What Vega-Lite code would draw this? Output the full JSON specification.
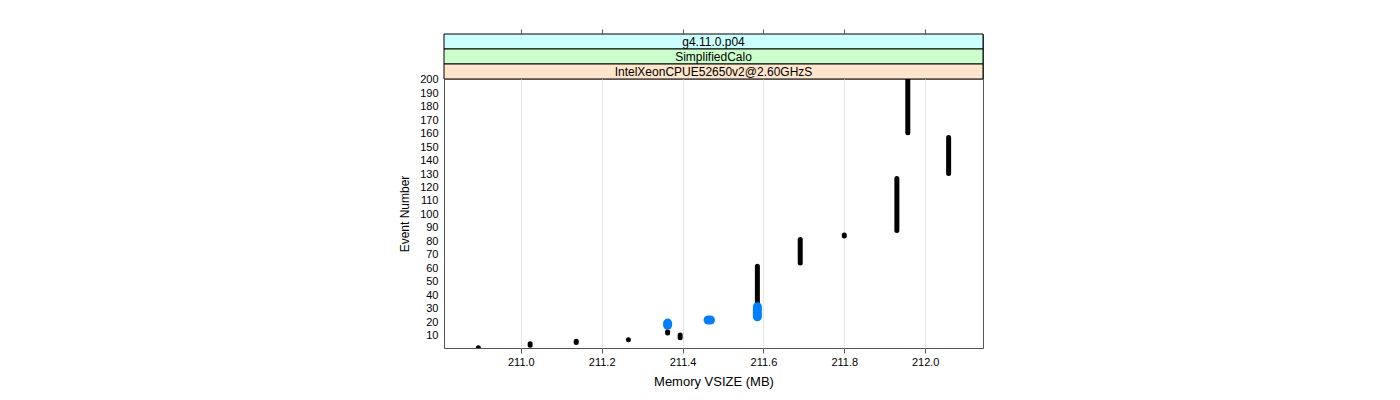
{
  "$schema": "https://vega.github.io/schema/vega-lite/v6.json",
  "padding": {"left": 398, "top": 28, "right": 5, "bottom": 5},
  "background": "white",
  "config": {
    "font": "Liberation Sans",
    "view": {"stroke": "#555555", "strokeWidth": 1},
    "axis": {"labelFont": "Liberation Sans", "titleFont": "Liberation Sans", "labelColor": "#000000", "titleColor": "#000000", "titleFontWeight": "normal"}
  },
  "datasets": {
    "strips": [
      {"strip": "g4.11.0.p04", "level": "a"},
      {"strip": "SimplifiedCalo", "level": "b"},
      {"strip": "IntelXeonCPUE52650v2@2.60GHzS", "level": "c"}
    ],
    "runs": [
      {"vsize": 210.895, "vsize2": 210.895, "ev": 1, "ev2": 1.05, "series": "main"},
      {"vsize": 211.023, "vsize2": 211.023, "ev": 3, "ev2": 4, "series": "main"},
      {"vsize": 211.137, "vsize2": 211.137, "ev": 5, "ev2": 6, "series": "main"},
      {"vsize": 211.266, "vsize2": 211.266, "ev": 7, "ev2": 7.05, "series": "main"},
      {"vsize": 211.363, "vsize2": 211.363, "ev": 12, "ev2": 13, "series": "main"},
      {"vsize": 211.394, "vsize2": 211.394, "ev": 8.5, "ev2": 10.5, "series": "main"},
      {"vsize": 211.585, "vsize2": 211.585, "ev": 30, "ev2": 61.5, "series": "main"},
      {"vsize": 211.691, "vsize2": 211.691, "ev": 64, "ev2": 81.5, "series": "main"},
      {"vsize": 211.8, "vsize2": 211.8, "ev": 84, "ev2": 84.8, "series": "main"},
      {"vsize": 211.93, "vsize2": 211.93, "ev": 88, "ev2": 126.6, "series": "main"},
      {"vsize": 211.957, "vsize2": 211.957, "ev": 160.7, "ev2": 203, "series": "main"},
      {"vsize": 212.058, "vsize2": 212.058, "ev": 130.3, "ev2": 157, "series": "main"},
      {"vsize": 211.363, "vsize2": 211.363, "ev": 17.8, "ev2": 19.4, "series": "other"},
      {"vsize": 211.463, "vsize2": 211.469, "ev": 21.7, "ev2": 21.7, "series": "other"},
      {"vsize": 211.585, "vsize2": 211.585, "ev": 24, "ev2": 31.6, "series": "other"}
    ]
  },
  "spacing": 0,
  "bounds": "flush",
  "vconcat": [
    {
      "width": 539,
      "height": 45,
      "data": {"name": "strips"},
      "encoding": {
        "y": {"field": "level", "type": "nominal", "scale": {"paddingInner": 0, "paddingOuter": 0}, "axis": null}
      },
      "layer": [
        {
          "mark": {"type": "rect", "stroke": "#000000", "strokeWidth": 1},
          "encoding": {
            "color": {"field": "level", "type": "nominal", "scale": {"domain": ["a", "b", "c"], "range": ["#ccffff", "#ccffcc", "#ffe5cc"]}, "legend": null}
          }
        },
        {
          "mark": {"type": "text", "fontSize": 12, "font": "Liberation Sans", "color": "#000000", "baseline": "middle", "align": "center"},
          "encoding": {"text": {"field": "strip"}}
        }
      ]
    },
    {
      "width": 539,
      "height": 269,
      "data": {"name": "runs"},
      "encoding": {
        "x": {"field": "vsize", "type": "quantitative", "scale": {"domain": [210.81, 212.143], "nice": false, "zero": false}},
        "x2": {"field": "vsize2"},
        "y": {"field": "ev", "type": "quantitative", "scale": {"domain": [0.9, 200.5], "nice": false, "zero": false},
          "axis": {"title": "Event Number", "titleFontSize": 12, "titlePadding": 8, "values": [10,20,30,40,50,60,70,80,90,100,110,120,130,140,150,160,170,180,190,200], "ticks": false, "domain": false, "grid": false, "labelFontSize": 11, "labelPadding": 6, "labelFlush": false}},
        "y2": {"field": "ev2"}
      },
      "resolve": {"axis": {"x": "independent"}},
      "layer": [
        {
          "transform": [{"filter": "datum.series == 'main'"}],
          "mark": {"type": "rule", "color": "#000000", "strokeWidth": 5, "strokeCap": "round", "clip": true},
          "encoding": {
            "x": {"field": "vsize", "type": "quantitative", "scale": {"domain": [210.81, 212.143], "nice": false, "zero": false},
              "axis": {"orient": "bottom", "title": "Memory VSIZE (MB)", "titleFontSize": 13, "titlePadding": 8, "values": [211.0, 211.2, 211.4, 211.6, 211.8, 212.0], "format": ".1f", "labelFontSize": 11, "labelPadding": 3, "tickSize": 5, "tickColor": "#555555", "domain": false, "grid": true, "gridColor": "#e6e6e6", "gridWidth": 1, "labelFlush": false}}
          }
        },
        {
          "transform": [{"filter": "datum.series == 'other'"}],
          "mark": {"type": "rule", "color": "#0080ff", "strokeWidth": 9, "strokeCap": "round", "clip": true},
          "encoding": {
            "x": {"field": "vsize", "type": "quantitative", "scale": {"domain": [210.81, 212.143], "nice": false, "zero": false},
              "axis": {"orient": "top", "title": null, "offset": 45, "values": [211.0, 211.2, 211.4, 211.6, 211.8, 212.0], "labels": false, "tickSize": 5, "tickColor": "#555555", "domain": false, "grid": false}}
          }
        }
      ]
    }
  ]
}
